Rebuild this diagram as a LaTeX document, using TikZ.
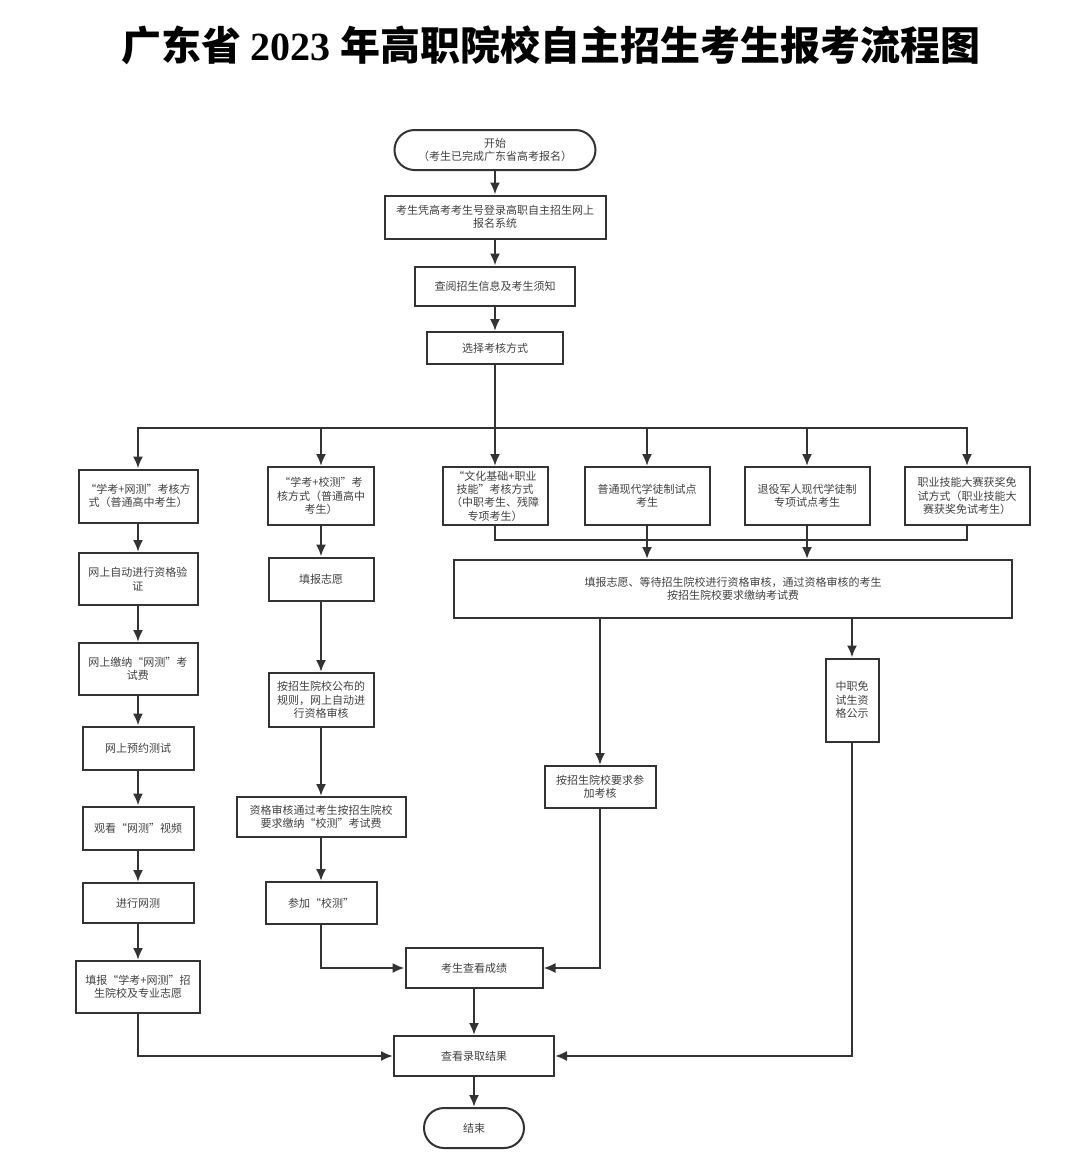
\documentclass[tikz,border=0pt]{standalone}
\usepackage{fontspec}
\newfontfamily\cjk{Noto Sans CJK SC}
\newfontfamily\digits{Liberation Serif}
\usetikzlibrary{arrows.meta}
\definecolor{linecol}{rgb}{0.2,0.2,0.2}
\definecolor{textcol}{rgb}{0.25,0.25,0.25}
\tikzset{
  box/.style={draw=linecol, line width=1pt, align=center, inner sep=1pt,
    font=\cjk\fontsize{5.5pt}{6.7pt}\selectfont, text=textcol},
  wh/.style 2 args={minimum width=#1*0.5pt, minimum height=#2*0.5pt},
  term/.style={box, rounded corners=10pt},
  flow/.style={draw=linecol, line width=1pt, -{Latex[length=6pt,width=5pt]}},
  link/.style={draw=linecol, line width=1pt},
}
\begin{document}
\begin{tikzpicture}[x=0.5pt,y=-0.5pt,line join=miter]
\useasboundingbox (0,0) rectangle (1080,1175);
  % Title
  \node (title) at (551,45) {\cjk\bfseries\fontsize{20pt}{24pt}\selectfont 广东省 {\digits\bfseries 2023} 年高职院校自主招生考生报考流程图};
%%
  % Node: start
  \node[term, wh={201}{40}] (start) at (495,150) {开始\\（考生已完成广东省高考报名）};
  % Node: login
  \node[box, wh={221}{43}] (login) at (495,217) {考生凭高考考生号登录高职自主招生网上\\报名系统};
  % Node: notice
  \node[box, wh={160}{39}] (notice) at (495,286) {查阅招生信息及考生须知};
  % Node: choose
  \node[box, wh={136}{32}] (choose) at (495,348) {选择考核方式};
  \coordinate (split) at (495,428);
%%
  % Node: wangce (left column)
  \node[box, wh={119}{53}] (wangce) at (138,496) {“学考+网测”考核方\\式（普通高中考生）};
  \node[box, wh={119}{52}] (verify) at (138,579) {网上自动进行资格验\\证};
  \node[box, wh={119}{52}] (payweb) at (138,669) {网上缴纳“网测”考\\试费};
  \node[box, wh={111}{43}] (book) at (138,748) {网上预约测试};
  \node[box, wh={111}{43}] (video) at (138,828) {观看“网测”视频};
  \node[box, wh={111}{40}] (webtest) at (138,903) {进行网测};
  \node[box, wh={124}{52}] (wish) at (138,987) {填报“学考+网测”招\\生院校及专业志愿};
%%
  % Node: xiaoce (middle column)
  \node[box, wh={106}{58}] (xiaoce) at (321,496) {“学考+校测”考\\核方式（普通高中\\考生）};
  \node[box, wh={105}{43}] (fillwish) at (321,579) {填报志愿};
  \node[box, wh={105}{54}] (autocheck) at (321,700) {按招生院校公布的\\规则，网上自动进\\行资格审核};
  \node[box, wh={169}{40}] (payschool) at (321,817) {资格审核通过考生按招生院校\\要求缴纳“校测”考试费};
  \node[box, wh={111}{42}] (schooltest) at (321,903) {参加“校测”};
%%
  % Node: right group
  \node[box, wh={105}{58}] (culture) at (495,496) {“文化基础+职业\\技能”考核方式\\（中职考生、残障\\专项考生）};
  \node[box, wh={125}{58}] (appren) at (647,496) {普通现代学徒制试点\\考生};
  \node[box, wh={125}{58}] (veteran) at (807,496) {退役军人现代学徒制\\专项试点考生};
  \node[box, wh={125}{58}] (skill) at (967,496) {职业技能大赛获奖免\\试方式（职业技能大\\赛获奖免试考生）};
  \coordinate (mergeL) at (495,540);
  \coordinate (mergeR) at (967,540);
  \node[box, wh={558}{58}] (apply) at (733,589) {填报志愿、等待招生院校进行资格审核，通过资格审核的考生\\按招生院校要求缴纳考试费};
  \node[box, wh={111}{42}] (exam) at (600,787) {按招生院校要求参\\加考核};
  \node[box, wh={53}{83}] (public) at (852,700) {中职免\\试生资\\格公示};
%%
  % Node: score, result, end
  \node[box, wh={137}{40}] (score) at (474,968) {考生查看成绩};
  \node[box, wh={160}{40}] (result) at (474,1056) {查看录取结果};
  \node[term, wh={100}{40}] (finish) at (474,1128) {结束};
%%
  % Edge: start -> login -> notice -> choose
  \draw[flow] (start) -- (login);
  \draw[flow] (login) -- (notice);
  \draw[flow] (notice) -- (choose);
  \draw[link] (choose) -- (split);
  % Edge: split -> the six ways
  \draw[flow] (split) -| (wangce.north);
  \draw[flow] (split) -| (xiaoce.north);
  \draw[flow] (split) -- (culture.north);
  \draw[flow] (split) -| (appren.north);
  \draw[flow] (split) -| (veteran.north);
  \draw[flow] (split) -| (skill.north);
  % Edge: left column
  \draw[flow] (wangce) -- (verify);
  \draw[flow] (verify) -- (payweb);
  \draw[flow] (payweb) -- (book);
  \draw[flow] (book) -- (video);
  \draw[flow] (video) -- (webtest);
  \draw[flow] (webtest) -- (wish);
  \draw[flow] (wish.south) |- (result.west);
  % Edge: middle column
  \draw[flow] (xiaoce) -- (fillwish);
  \draw[flow] (fillwish) -- (autocheck);
  \draw[flow] (autocheck) -- (payschool);
  \draw[flow] (payschool) -- (schooltest);
  \draw[flow] (schooltest.south) |- (score.west);
  % Edge: right group -> apply
  \draw[link] (culture.south) -- (mergeL) -- (mergeR) -- (skill.south);
  \draw[flow] (appren.south) -- (appren.south |- apply.north);
  \draw[flow] (veteran.south) -- (veteran.south |- apply.north);
  % Edge: apply -> exam, apply -> public
  \draw[flow] (apply.south -| exam.north) -- (exam.north);
  \draw[flow] (apply.south -| public.north) -- (public.north);
  \draw[flow] (exam.south) |- (score.east);
  \draw[flow] (public.south) |- (result.east);
  % Edge: score -> result -> finish
  \draw[flow] (score) -- (result);
  \draw[flow] (result) -- (finish);
%
\end{tikzpicture}
\end{document}
